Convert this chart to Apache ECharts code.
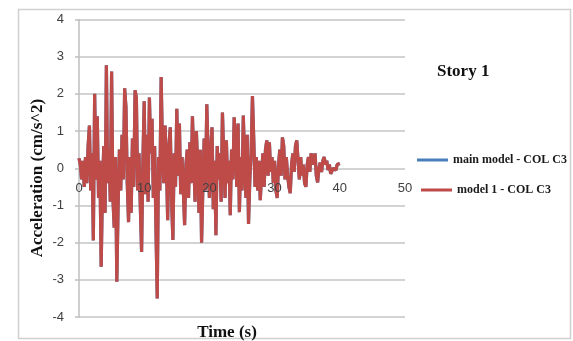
<!DOCTYPE html>
<html>
<head>
<meta charset="utf-8">
<script src="https://cdn.jsdelivr.net/npm/echarts@6/dist/echarts.min.js"></script>
<style>
  html, body { margin: 0; padding: 0; background: #ffffff; }
  #chart { width: 573px; height: 341px; }
</style>
</head>
<body>
<div id="chart"></div>
<script>
// Story 1 acceleration time history, sampled every 0.2 s from 0 to 40 s
const timeStep = 0.2;
const accelValues = [
  0.27, 0.1, -0.3, 0.2, -0.5, 0.3, -0.4, 0.6, 1.15, -0.6,
  0.4, -1.94, 2.0, -0.3, 1.4, -0.8, 0.2, -2.65, -0.5, 0.6,
  -1.2, 2.77, -0.4, 0.5, -0.9, 2.6, -0.8, -1.6, 0.3, -3.05,
  -1.0, 0.5, -0.6, 0.9, -0.3, 2.15, 1.65, -0.4, -1.45, 0.3,
  -1.2, 0.8, -0.5, 2.1, 1.9, -0.6, 0.4, -1.0, -2.25, 0.2,
  1.8, -0.7, 0.9, -0.9, 1.9, 0.4, 1.33, -0.8, 0.6, -1.6,
  -3.5, 0.3, -0.6, 2.45, 0.5, -0.4, 1.15, 0.2, -1.4, 0.6,
  1.1, -0.9, -1.93, 0.4, -0.5, 1.6, -0.2, 1.2, -0.7, 0.3,
  -0.6, -1.53, 0.1, 0.5, -0.8, 0.7, -0.4, 1.4, 0.2, -0.9,
  1.0, 0.1, -1.2, 0.5, -2.0, -0.5, 0.8, -0.6, 1.72, 0.4,
  -0.8, 0.5, 1.1, -1.1, 0.2, -1.8, 0.6, -0.3, 0.4, -0.9,
  1.5, 0.3, -0.8, 0.75, -0.4, 0.2, -1.26, 0.5, -0.3, 1.37,
  0.6, -0.5, 1.2, -1.18, 0.3, -0.6, 1.42, 0.2, -0.8, 0.9,
  -1.5, -0.3, 0.4, 1.94, 0.8, -0.5, 0.3, -0.6, 0.2, -0.86,
  -0.2, 0.4, -0.5, 0.5, 0.75, -0.2, 0.7, -0.1, 0.3, -0.4,
  0.2, -0.6, -0.8, 0.1, 0.5, -0.2, 0.83, 0.6, -0.3, 0.3,
  -0.2, -0.5, -0.67, 0.1, 0.4, -0.1, 0.6, 0.75, 0.2, -0.3,
  0.3, -0.2, 0.1, -0.4, -0.5, 0.1, 0.3, -0.1, 0.4, 0.35,
  0.1, 0.4, -0.2, -0.38, 0.0, 0.15, -0.1, 0.2, 0.3, 0.1,
  0.2, -0.05, 0.1, -0.15, -0.2, 0.0, 0.05, -0.05, 0.1, 0.05,
  0.13
];
const seriesNames = ['main model - COL C3', 'model 1 - COL C3'];
const seriesColors = ['#4a7ebb', '#be4b48'];
const xRange = [0, 50, 10];   // min, max, interval (s)
const yRange = [-4, 4, 1];    // min, max, interval (cm/s^2)

const points = accelValues.map((v, i) => [+(i * timeStep).toFixed(2), v]);

const serif = '"Liberation Serif", "Times New Roman", serif';
const sans = '"Liberation Sans", Arial, sans-serif';

const gridTop = 19.5, gridBottom = 24, chartHeight = 341;
// shift the time axis up so its labels sit under the zero line of the acceleration axis
const plotHeight = chartHeight - gridTop - gridBottom;
const zeroShift = -plotHeight * (0 - yRange[0]) / (yRange[1] - yRange[0]);

const chart = echarts.init(document.getElementById('chart'), null, { renderer: 'canvas' });

const legendText = { fontFamily: serif, fontWeight: 'bold', fontSize: 12, color: '#1a1a1a' };

chart.setOption({
  animation: false,
  backgroundColor: '#ffffff',
  grid: { left: 79, right: 168, top: gridTop, bottom: gridBottom, containLabel: false },
  xAxis: {
    type: 'value',
    position: 'bottom',
    offset: zeroShift,
    z: 5,
    min: xRange[0], max: xRange[1], interval: xRange[2],
    axisLine: { show: false, onZero: false },
    axisTick: { show: false },
    splitLine: { show: false },
    axisLabel: { margin: 14, fontFamily: sans, fontSize: 13, color: '#404040' }
  },
  yAxis: {
    type: 'value',
    min: yRange[0], max: yRange[1], interval: yRange[2],
    axisLine: { show: true, lineStyle: { color: '#bfbfbf', width: 1.5 } },
    axisTick: { show: true, length: 4, lineStyle: { color: '#bfbfbf', width: 1.5 } },
    splitLine: { show: true, lineStyle: { color: '#c4c4c4', width: 1.5 } },
    axisLabel: { margin: 15, fontFamily: sans, fontSize: 13, color: '#404040' }
  },
  legend: [
    {
      data: [seriesNames[0]], left: 417, top: 154, padding: 0,
      icon: 'rect', itemWidth: 31, itemHeight: 3, textStyle: legendText
    },
    {
      data: [seriesNames[1]], left: 421, top: 184, padding: 0,
      icon: 'rect', itemWidth: 31, itemHeight: 3, textStyle: legendText
    }
  ],
  series: seriesNames.map((name, k) => ({
    name: name,
    type: 'line',
    data: points,
    showSymbol: false,
    symbol: 'none',
    lineStyle: { color: seriesColors[k], width: 3.2 },
    itemStyle: { color: seriesColors[k] },
    z: 2 + k
  })),
  graphic: [
    {
      type: 'rect', z: -1, silent: true,
      shape: { x: 18.5, y: 9.5, width: 552, height: 329 },
      style: { fill: 'none', stroke: '#d0d0d0', lineWidth: 1.5 }
    },
    {
      type: 'text', x: 437, y: 72,
      style: { text: 'Story 1', font: 'bold 17px ' + serif, fill: '#111', verticalAlign: 'middle' }
    },
    {
      type: 'text', x: 227, y: 333,
      style: { text: 'Time (s)', font: 'bold 17px ' + serif, fill: '#111', align: 'center', verticalAlign: 'middle' }
    },
    {
      type: 'text', x: 38, y: 178, rotation: Math.PI / 2,
      style: { text: 'Acceleration (cm/s^2)', font: 'bold 17px ' + serif, fill: '#111', align: 'center', verticalAlign: 'middle' }
    }
  ]
});
</script>
</body>
</html>
